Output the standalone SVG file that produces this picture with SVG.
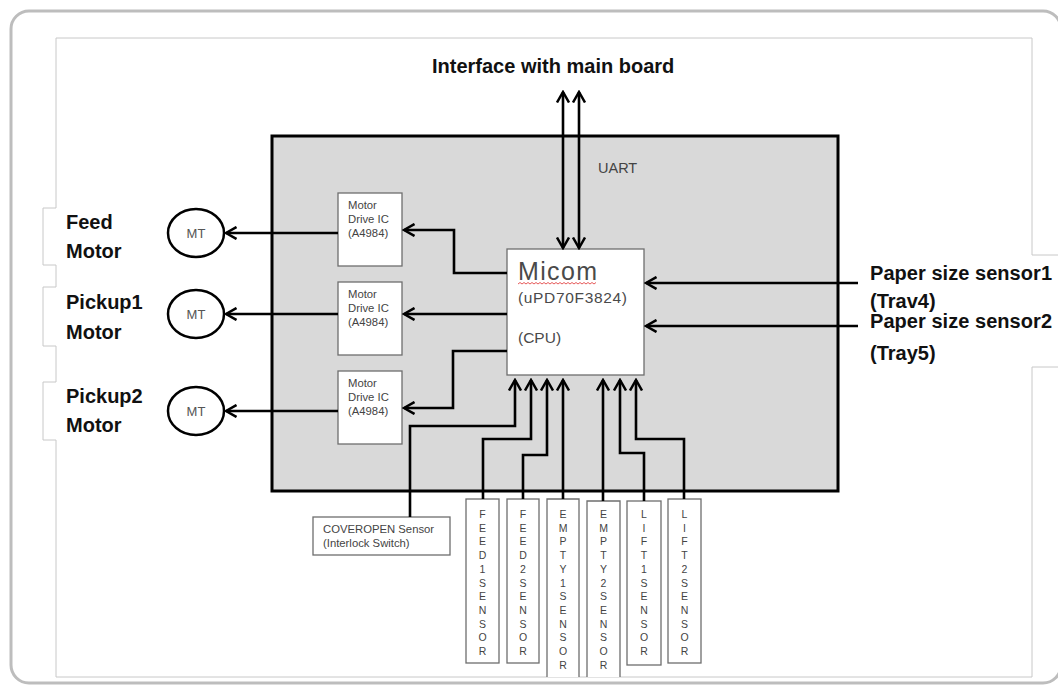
<svg xmlns="http://www.w3.org/2000/svg" width="1058" height="685" viewBox="0 0 1058 685">
<defs>
<marker id="ah" viewBox="0 0 13 14" refX="11" refY="7" markerWidth="13" markerHeight="14" markerUnits="userSpaceOnUse" orient="auto-start-reverse">
<path d="M0.5,1 L11,7 L0.5,13" fill="none" stroke="#000" stroke-width="2.5"/>
</marker>
<style>
.frame{fill:none;stroke:#bdbdbd;stroke-width:3}
.img{fill:none;stroke:#c8c8c8;stroke-width:1}
.board{fill:#d9d9d9;stroke:#000;stroke-width:3}
.box{fill:#fff;stroke:#6e6e6e;stroke-width:1.3}
.mt{fill:#fff;stroke:#000;stroke-width:2.5}
.conn{fill:none;stroke:#000;stroke-width:2.6;stroke-linejoin:miter}
.lbl{font-family:"Liberation Sans",Arial,sans-serif;font-weight:bold;font-size:20px;fill:#111}
.sm{font-family:"Liberation Sans",Arial,sans-serif;font-size:11.3px;fill:#444}
.vt{font-family:"Liberation Sans",Arial,sans-serif;font-size:10.5px;fill:#444;text-anchor:middle}
.mtt{font-family:"Liberation Sans",Arial,sans-serif;font-size:13px;fill:#555;text-anchor:middle}
</style>
</defs>
<rect width="1058" height="685" fill="#fff"/>
<rect class="frame" x="11" y="11" width="1050" height="672" rx="18"/>
<path class="img" d="M56,38 V208 H43 V265 H56 V287 H43 V346 H56 V382 H43 V440 H56 V677 H1032 V367 H1058 M1058,255 H1032 V38 H56"/>

<g id="board">
<rect class="board" x="272" y="136" width="566" height="355"/>
<text x="598" y="173" font-family="Liberation Sans, Arial, sans-serif" font-size="14.5" fill="#444">UART</text>
</g>

<text id="interface-label" class="lbl" x="432" y="73" font-size="21">Interface with main board</text>

<g id="micom">
<rect class="box" x="507" y="249" width="137" height="126"/>
<text x="518" y="280" font-family="Liberation Sans, Arial, sans-serif" font-size="25" fill="#4a4a4a" textLength="79">Micom</text>
<path d="M518,284 l2,-1.5 l2,1.5 l2,-1.5 l2,1.5 l2,-1.5 l2,1.5 l2,-1.5 l2,1.5 l2,-1.5 l2,1.5 l2,-1.5 l2,1.5 l2,-1.5 l2,1.5 l2,-1.5 l2,1.5 l2,-1.5 l2,1.5 l2,-1.5 l2,1.5 l2,-1.5 l2,1.5 l2,-1.5 l2,1.5 l2,-1.5 l2,1.5 l2,-1.5 l2,1.5 l2,-1.5 l2,1.5 l2,-1.5 l2,1.5 l2,-1.5 l2,1.5 l2,-1.5 l2,1.5 l2,-1.5 l2,1.5 l2,-1.5" fill="none" stroke="#e03030" stroke-width="0.8"/>
<text x="518" y="303" font-family="Liberation Sans, Arial, sans-serif" font-size="15.5" fill="#4a4a4a" textLength="109">(uPD70F3824)</text>
<text x="518" y="343" font-family="Liberation Sans, Arial, sans-serif" font-size="15.5" fill="#4a4a4a">(CPU)</text>
</g>

<g id="drive1">
<rect class="box" x="338" y="193" width="64" height="73"/>
<text class="sm" x="348" y="209">Motor</text>
<text class="sm" x="348" y="223">Drive IC</text>
<text class="sm" x="348" y="237">(A4984)</text>
</g>
<g id="drive2">
<rect class="box" x="338" y="282" width="64" height="73"/>
<text class="sm" x="348" y="298">Motor</text>
<text class="sm" x="348" y="312">Drive IC</text>
<text class="sm" x="348" y="326">(A4984)</text>
</g>
<g id="drive3">
<rect class="box" x="338" y="371" width="64" height="73"/>
<text class="sm" x="348" y="387">Motor</text>
<text class="sm" x="348" y="401">Drive IC</text>
<text class="sm" x="348" y="415">(A4984)</text>
</g>

<g id="mt1">
<ellipse class="mt" cx="196" cy="233" rx="28" ry="24"/>
<text class="mtt" x="196" y="238">MT</text>
</g>
<g id="mt2">
<ellipse class="mt" cx="196" cy="314" rx="28" ry="24"/>
<text class="mtt" x="196" y="319">MT</text>
</g>
<g id="mt3">
<ellipse class="mt" cx="196" cy="411" rx="28" ry="24"/>
<text class="mtt" x="196" y="416">MT</text>
</g>

<g id="feed-motor-label">
<text class="lbl" x="66" y="229">Feed</text>
<text class="lbl" x="66" y="258">Motor</text>
</g>
<g id="pickup1-label">
<text class="lbl" x="66" y="309">Pickup1</text>
<text class="lbl" x="66" y="339">Motor</text>
</g>
<g id="pickup2-label">
<text class="lbl" x="66" y="403">Pickup2</text>
<text class="lbl" x="66" y="432">Motor</text>
</g>

<g id="paper-size-label">
<text class="lbl" x="870" y="280" textLength="182">Paper size sensor1</text>
<text class="lbl" x="870" y="308">(Trav4)</text>
<text class="lbl" x="870" y="328" textLength="182">Paper size sensor2</text>
<text class="lbl" x="870" y="360">(Tray5)</text>
</g>

<g id="coveropen">
<rect class="box" x="313" y="517" width="137" height="38"/>
<text class="sm" x="323" y="533">COVEROPEN Sensor</text>
<text class="sm" x="323" y="547">(Interlock Switch)</text>
</g>

<g id="feed1">
<rect class="box" x="466" y="499" width="33" height="164"/>
<text class="vt"><tspan x="482.5" y="518">F</tspan><tspan x="482.5" dy="13.7">E</tspan><tspan x="482.5" dy="13.7">E</tspan><tspan x="482.5" dy="13.7">D</tspan><tspan x="482.5" dy="13.7">1</tspan><tspan x="482.5" dy="13.7">S</tspan><tspan x="482.5" dy="13.7">E</tspan><tspan x="482.5" dy="13.7">N</tspan><tspan x="482.5" dy="13.7">S</tspan><tspan x="482.5" dy="13.7">O</tspan><tspan x="482.5" dy="13.7">R</tspan></text>
</g>
<g id="feed2">
<rect class="box" x="507" y="499" width="32" height="164"/>
<text class="vt"><tspan x="523" y="518">F</tspan><tspan x="523" dy="13.7">E</tspan><tspan x="523" dy="13.7">E</tspan><tspan x="523" dy="13.7">D</tspan><tspan x="523" dy="13.7">2</tspan><tspan x="523" dy="13.7">S</tspan><tspan x="523" dy="13.7">E</tspan><tspan x="523" dy="13.7">N</tspan><tspan x="523" dy="13.7">S</tspan><tspan x="523" dy="13.7">O</tspan><tspan x="523" dy="13.7">R</tspan></text>
</g>
<g id="empty1">
<path class="box" d="M547,677 V499 H579 V677"/>
<text class="vt"><tspan x="563" y="518">E</tspan><tspan x="563" dy="13.7">M</tspan><tspan x="563" dy="13.7">P</tspan><tspan x="563" dy="13.7">T</tspan><tspan x="563" dy="13.7">Y</tspan><tspan x="563" dy="13.7">1</tspan><tspan x="563" dy="13.7">S</tspan><tspan x="563" dy="13.7">E</tspan><tspan x="563" dy="13.7">N</tspan><tspan x="563" dy="13.7">S</tspan><tspan x="563" dy="13.7">O</tspan><tspan x="563" dy="13.7">R</tspan></text>
</g>
<g id="empty2">
<path class="box" d="M587,677 V501 H620 V677"/>
<text class="vt"><tspan x="603.5" y="518">E</tspan><tspan x="603.5" dy="13.7">M</tspan><tspan x="603.5" dy="13.7">P</tspan><tspan x="603.5" dy="13.7">T</tspan><tspan x="603.5" dy="13.7">Y</tspan><tspan x="603.5" dy="13.7">2</tspan><tspan x="603.5" dy="13.7">S</tspan><tspan x="603.5" dy="13.7">E</tspan><tspan x="603.5" dy="13.7">N</tspan><tspan x="603.5" dy="13.7">S</tspan><tspan x="603.5" dy="13.7">O</tspan><tspan x="603.5" dy="13.7">R</tspan></text>
</g>
<g id="lift1">
<rect class="box" x="627" y="501" width="34" height="164"/>
<text class="vt"><tspan x="644" y="518">L</tspan><tspan x="644" dy="13.7">I</tspan><tspan x="644" dy="13.7">F</tspan><tspan x="644" dy="13.7">T</tspan><tspan x="644" dy="13.7">1</tspan><tspan x="644" dy="13.7">S</tspan><tspan x="644" dy="13.7">E</tspan><tspan x="644" dy="13.7">N</tspan><tspan x="644" dy="13.7">S</tspan><tspan x="644" dy="13.7">O</tspan><tspan x="644" dy="13.7">R</tspan></text>
</g>
<g id="lift2">
<rect class="box" x="668" y="499" width="33" height="164"/>
<text class="vt"><tspan x="684.5" y="518">L</tspan><tspan x="684.5" dy="13.7">I</tspan><tspan x="684.5" dy="13.7">F</tspan><tspan x="684.5" dy="13.7">T</tspan><tspan x="684.5" dy="13.7">2</tspan><tspan x="684.5" dy="13.7">S</tspan><tspan x="684.5" dy="13.7">E</tspan><tspan x="684.5" dy="13.7">N</tspan><tspan x="684.5" dy="13.7">S</tspan><tspan x="684.5" dy="13.7">O</tspan><tspan x="684.5" dy="13.7">R</tspan></text>
</g>

<g id="connectors" class="conn">
<path d="M563,92 V248" marker-start="url(#ah)" marker-end="url(#ah)"/>
<path d="M579,92 V248" marker-start="url(#ah)" marker-end="url(#ah)"/>
<path d="M507,273 H454 V230 H404" marker-end="url(#ah)"/>
<path d="M507,314 H404" marker-end="url(#ah)"/>
<path d="M507,351 H453 V408 H404" marker-end="url(#ah)"/>
<path d="M338,233 H226" marker-end="url(#ah)"/>
<path d="M338,314 H226" marker-end="url(#ah)"/>
<path d="M338,411 H226" marker-end="url(#ah)"/>
<path d="M858,283 H646" marker-end="url(#ah)"/>
<path d="M858,326 H646" marker-end="url(#ah)"/>
<path d="M410,517 V426 H515 V380" marker-end="url(#ah)"/>
<path d="M483,499 V439 H531 V380" marker-end="url(#ah)"/>
<path d="M523,499 V455 H547 V380" marker-end="url(#ah)"/>
<path d="M563,499 V380" marker-end="url(#ah)"/>
<path d="M603,501 V380" marker-end="url(#ah)"/>
<path d="M644,501 V453 H620 V380" marker-end="url(#ah)"/>
<path d="M684,499 V439 H636 V380" marker-end="url(#ah)"/>
</g>
</svg>
